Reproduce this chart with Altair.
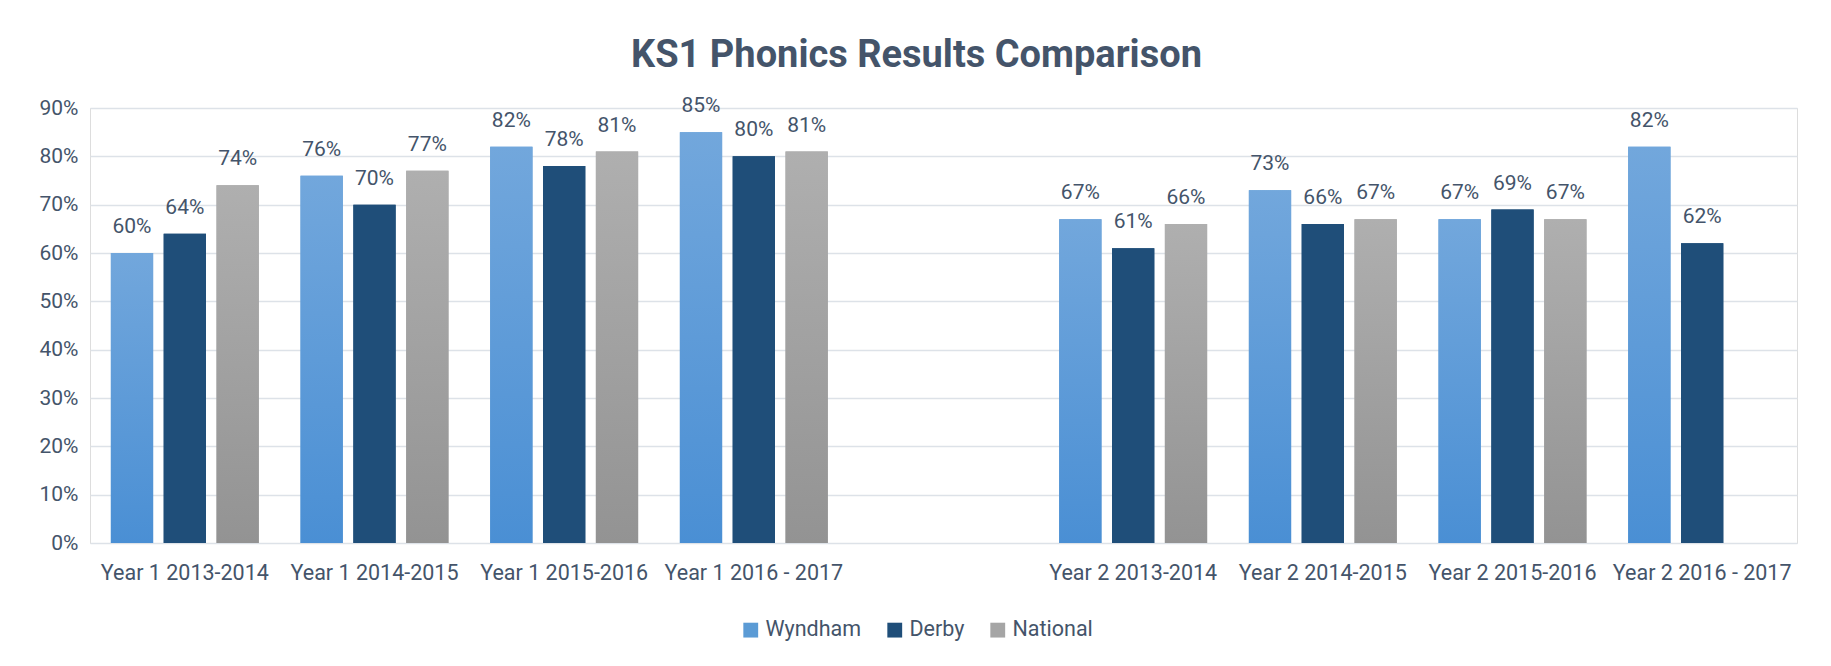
import altair as alt
import pandas as pd

FONT = "Roboto, sans-serif"
TXT = "#44546a"

categories = ["Year 1 2013-2014", "Year 1 2014-2015", "Year 1 2015-2016", "Year 1 2016 - 2017",
              "Year 2 2013-2014", "Year 2 2014-2015", "Year 2 2015-2016", "Year 2 2016 - 2017"]
gap_label = " "
series = ["Wyndham", "Derby", "National"]
wyndham = [60, 76, 82, 85, 67, 73, 67, 82]
derby = [64, 70, 78, 80, 61, 66, 69, 62]
national = [74, 77, 81, 81, 66, 67, 67, None]
flat_colors = ["#5b9bd5", "#1f4e79", "#a5a5a5"]
grad_top = ["#72a7dc", "#1f4e79", "#afafaf"]
grad_bottom = ["#4a8fd4", "#1f4e79", "#939393"]

rows = []
for i, c in enumerate(categories):
    for s, vals in zip(series, [wyndham, derby, national]):
        v = vals[i]
        if v is not None:
            rows.append({"category": c, "series": s, "value": v / 100})
df = pd.DataFrame(rows)

domain = categories[:4] + [gap_label] + categories[4:]

x = alt.X("category:N", sort=domain,
          scale=alt.Scale(domain=domain, paddingInner=0.22, paddingOuter=0.11),
          axis=alt.Axis(title=None, labelAngle=0, ticks=False, domain=False, labelLimit=0,
                        labelFont=FONT, labelFontSize=21.5, labelColor=TXT, labelPadding=19))
xo = alt.XOffset("series:N", sort=series, scale=alt.Scale(domain=series, paddingInner=0.2, paddingOuter=0))
y = alt.Y("value:Q", scale=alt.Scale(domain=[0, 0.9], nice=False),
          axis=alt.Axis(title=None, format=".0%", values=[i / 10 for i in range(10)],
                        ticks=False, domain=False, grid=True, gridColor="#dde2e8", gridWidth=1.5,
                        labelFont=FONT, labelFontSize=21, labelColor=TXT, labelPadding=12))

base = alt.Chart(df).encode(x=x, xOffset=xo, y=y)

legend_bars = base.mark_bar().encode(
    color=alt.Color("series:N", sort=series,
                    scale=alt.Scale(domain=series, range=flat_colors),
                    legend=alt.Legend(title=None, orient="none", direction="horizontal",
                                      legendX=650, legendY=511, symbolType="square",
                                      symbolSize=220, symbolStrokeWidth=0,
                                      labelFont=FONT, labelFontSize=21.5, labelColor=TXT,
                                      columnPadding=22, labelOffset=4))
)

layers = [legend_bars]
for s, t, b in zip(series, grad_top, grad_bottom):
    layers.append(
        base.transform_filter(alt.datum.series == s).mark_bar(
            color=alt.Gradient(gradient="linear", x1=0, x2=0, y1=0, y2=1,
                               stops=[alt.GradientStop(color=t, offset=0),
                                      alt.GradientStop(color=b, offset=1)])
        )
    )

labels = base.mark_text(baseline="middle", dy=-26, font=FONT, fontSize=21, color=TXT).encode(
    text=alt.Text("value:Q", format=".0%")
)
layers.append(labels)

chart = alt.layer(*layers).properties(
    width=1707, height=435,
    padding={"left": 31, "top": 29, "right": 5, "bottom": 5},
    title=alt.TitleParams("KS1 Phonics Results Comparison", font=FONT, fontSize=38,
                          fontWeight="bold", color=TXT, anchor="middle", offset=20, dx=-27),
).configure_view(stroke=None).configure(background="white")

chart.save("out.html", embed_options={"renderer": "svg", "actions": False})
